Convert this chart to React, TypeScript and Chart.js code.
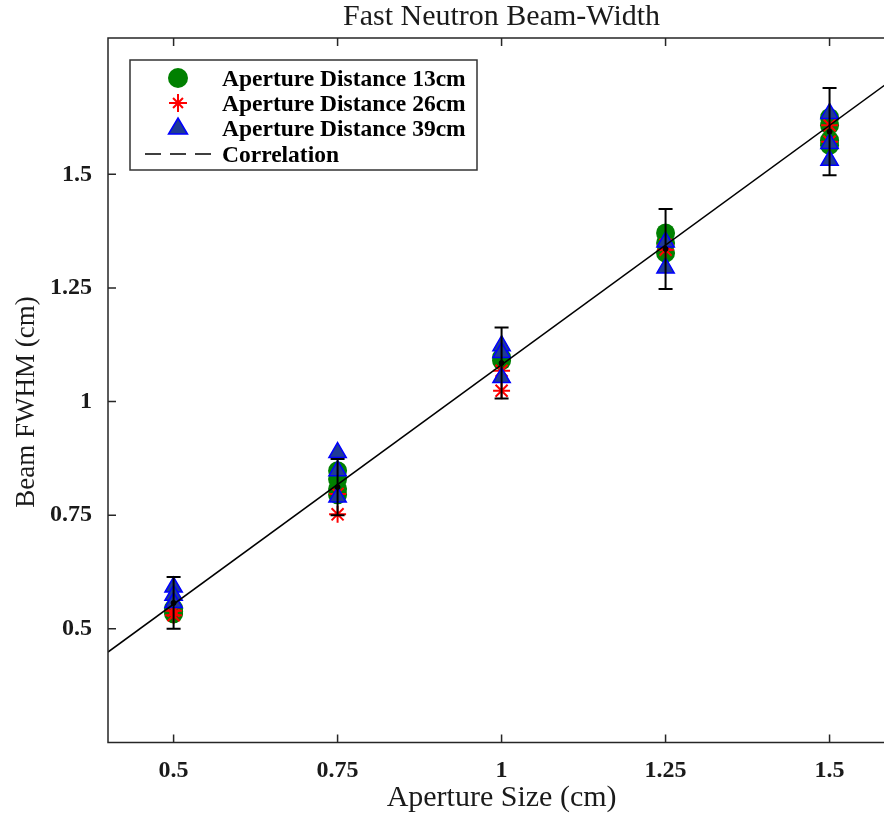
import React, { useEffect, useRef } from "react";
import { Chart, registerables } from "chart.js";

Chart.register(...registerables);

const FONT = "'Liberation Serif', 'DejaVu Serif', serif";
const TEXT = "#1a1a1a";

const chartTitle = "Fast Neutron Beam-Width";
const xAxisTitle = "Aperture Size (cm)";
const yAxisTitle = "Beam FWHM (cm)";

const xTickValues = [0.5, 0.75, 1, 1.25, 1.5];
const yTickValues = [0.5, 0.75, 1, 1.25, 1.5];

const seriesLabels = [
  "Aperture Distance 13cm",
  "Aperture Distance 26cm",
  "Aperture Distance 39cm",
  "Correlation",
];

// [aperture size, beam FWHM]
const dist13cm: [number, number][] = [
  [0.5, 0.545], [0.5, 0.538], [0.5, 0.533],
  [0.75, 0.848], [0.75, 0.83], [0.75, 0.808], [0.75, 0.795],
  [1.0, 1.097], [1.0, 1.09],
  [1.25, 1.371], [1.25, 1.349], [1.25, 1.327],
  [1.5, 1.625], [1.5, 1.608], [1.5, 1.575], [1.5, 1.564],
];
const dist26cm: [number, number][] = [
  [0.5, 0.53], [0.5, 0.54],
  [0.75, 0.797], [0.75, 0.752],
  [1.0, 1.068], [1.0, 1.024],
  [1.25, 1.334], [1.25, 1.345],
  [1.5, 1.608], [1.5, 1.572],
];
const dist39cm: [number, number][] = [
  [0.5, 0.592], [0.5, 0.574], [0.5, 0.558],
  [0.75, 0.888], [0.75, 0.848], [0.75, 0.79],
  [1.0, 1.123], [1.0, 1.108], [1.0, 1.053],
  [1.25, 1.351], [1.25, 1.294],
  [1.5, 1.634], [1.5, 1.568], [1.5, 1.531],
];

const meanSizes = [0.5, 0.75, 1.0, 1.25, 1.5];
const meanFWHM = [0.557, 0.812, 1.085, 1.336, 1.594];
const errFWHM = [0.057, 0.062, 0.078, 0.088, 0.096];

const correlationX = [0.4, 1.6];
const correlationY = [0.449, 1.713];

const toPts = (arr: [number, number][]) => arr.map(([x, y]) => ({ x, y }));

export default function App() {
  const ref = useRef<HTMLCanvasElement | null>(null);

  useEffect(() => {
    document.body.style.margin = "0";
    const canvas = ref.current;
    if (!canvas) return;

    const overlay = {
      id: "overlay",
      afterDatasetsDraw(chart: any) {
        const ctx = chart.ctx;
        const xs = chart.scales.x;
        const ys = chart.scales.y;
        ctx.save();
        ctx.strokeStyle = "#000";
        ctx.lineWidth = 2;
        meanSizes.forEach((s, i) => {
          const px = xs.getPixelForValue(s);
          const t = ys.getPixelForValue(meanFWHM[i] + errFWHM[i]);
          const b = ys.getPixelForValue(meanFWHM[i] - errFWHM[i]);
          ctx.beginPath();
          ctx.moveTo(px, t);
          ctx.lineTo(px, b);
          ctx.moveTo(px - 7, t);
          ctx.lineTo(px + 7, t);
          ctx.moveTo(px - 7, b);
          ctx.lineTo(px + 7, b);
          ctx.stroke();
        });
        ctx.restore();
      },
      afterDraw(chart: any) {
        const ctx = chart.ctx;
        const a = chart.chartArea;
        const xs = chart.scales.x;
        const ys = chart.scales.y;
        ctx.save();
        // frame
        ctx.strokeStyle = "#262626";
        ctx.lineWidth = 1.5;
        ctx.beginPath();
        ctx.moveTo(a.right + 2, a.top);
        ctx.lineTo(a.left, a.top);
        ctx.lineTo(a.left, a.bottom);
        ctx.lineTo(a.right + 2, a.bottom);
        ctx.stroke();
        // inner ticks
        ctx.beginPath();
        xTickValues.forEach((v) => {
          const px = xs.getPixelForValue(v);
          ctx.moveTo(px, a.bottom);
          ctx.lineTo(px, a.bottom - 8);
          ctx.moveTo(px, a.top);
          ctx.lineTo(px, a.top + 8);
        });
        yTickValues.forEach((v) => {
          const py = ys.getPixelForValue(v);
          ctx.moveTo(a.left, py);
          ctx.lineTo(a.left + 8, py);
        });
        ctx.stroke();

        // titles
        ctx.fillStyle = TEXT;
        ctx.textAlign = "center";
        ctx.textBaseline = "alphabetic";
        const cx = xs.getPixelForValue(1);
        ctx.font = `30px ${FONT}`;
        ctx.fillText(chartTitle, cx, 25);
        ctx.fillText(xAxisTitle, cx, 806);
        ctx.save();
        ctx.translate(34, 402);
        ctx.rotate(-Math.PI / 2);
        ctx.font = `27px ${FONT}`;
        ctx.fillText(yAxisTitle, 0, 0);
        ctx.restore();

        // legend
        const lx = 130, ly = 60, lw = 347, lh = 110;
        ctx.fillStyle = "#fff";
        ctx.fillRect(lx, ly, lw, lh);
        ctx.strokeStyle = "#333";
        ctx.lineWidth = 1.5;
        ctx.strokeRect(lx, ly, lw, lh);
        const rows = [78, 103, 128, 154];
        const mx = 178;
        // circle
        ctx.fillStyle = "#008000";
        ctx.beginPath();
        ctx.arc(mx, rows[0], 10, 0, Math.PI * 2);
        ctx.fill();
        // star
        ctx.strokeStyle = "#ff0000";
        ctx.lineWidth = 2;
        ctx.beginPath();
        for (let k = 0; k < 4; k++) {
          const ang = (k * Math.PI) / 4;
          const r = k % 2 === 0 ? 9 : 7;
          ctx.moveTo(mx + r * Math.cos(ang), rows[1] + r * Math.sin(ang));
          ctx.lineTo(mx - r * Math.cos(ang), rows[1] - r * Math.sin(ang));
        }
        ctx.stroke();
        // triangle
        ctx.fillStyle = "#1f3b95";
        ctx.strokeStyle = "#0000ff";
        ctx.lineWidth = 1.5;
        ctx.beginPath();
        ctx.moveTo(mx, rows[2] - 10);
        ctx.lineTo(mx + 9.5, rows[2] + 6);
        ctx.lineTo(mx - 9.5, rows[2] + 6);
        ctx.closePath();
        ctx.fill();
        ctx.stroke();
        // dashed line
        ctx.strokeStyle = "#000";
        ctx.lineWidth = 1.5;
        ctx.setLineDash([16, 9]);
        ctx.beginPath();
        ctx.moveTo(145, rows[3]);
        ctx.lineTo(212, rows[3]);
        ctx.stroke();
        ctx.setLineDash([]);
        ctx.fillStyle = "#000";
        ctx.textAlign = "left";
        ctx.textBaseline = "alphabetic";
        ctx.font = `bold 23.5px ${FONT}`;
        seriesLabels.forEach((t, i) => ctx.fillText(t, 222, rows[i] + 8));
        ctx.restore();
      },
    };

    const tickFont = { family: FONT, size: 24, weight: "bold" as const };

    const chart = new Chart(canvas, {
      type: "scatter",
      data: {
        datasets: [
          {
            label: "mean",
            data: meanSizes.map((x, i) => ({ x, y: meanFWHM[i] })),
            pointRadius: 2.5,
            pointBackgroundColor: "#000",
            pointBorderColor: "#000",
            order: -1,
          },
          {
            type: "line",
            label: seriesLabels[3],
            data: correlationX.map((x, i) => ({ x, y: correlationY[i] })),
            borderColor: "#000",
            borderWidth: 1.5,
            pointRadius: 0,
            fill: false,
            order: 0,
          },
          {
            label: seriesLabels[2],
            data: toPts(dist39cm),
            pointStyle: "triangle",
            pointRadius: 10,
            pointBackgroundColor: "#1f3b95",
            pointBorderColor: "#0000ff",
            pointBorderWidth: 1.5,
            order: 1,
          },
          {
            label: seriesLabels[1],
            data: toPts(dist26cm),
            pointStyle: "star",
            pointRadius: 8.5,
            pointBorderColor: "#ff0000",
            pointBackgroundColor: "#ff0000",
            pointBorderWidth: 2,
            order: 2,
          },
          {
            label: seriesLabels[0],
            data: toPts(dist13cm),
            pointStyle: "circle",
            pointRadius: 9.5,
            pointBackgroundColor: "#008000",
            pointBorderColor: "#008000",
            pointBorderWidth: 0,
            order: 3,
          },
        ],
      },
      options: {
        animation: false,
        responsive: false,
        layout: { autoPadding: false, padding: { top: 38, left: 0, right: 0, bottom: 0 } },
        plugins: { legend: { display: false }, title: { display: false }, tooltip: { enabled: false } },
        scales: {
          x: {
            type: "linear",
            min: 0.4,
            max: 1.583,
            grid: { display: false },
            border: { display: false },
            afterBuildTicks: (s: any) => {
              s.ticks = xTickValues.map((v) => ({ value: v }));
            },
            afterFit: (s: any) => {
              s.height = 75.5;
              s.paddingLeft = 0;
              s.paddingRight = 0;
            },
            ticks: { font: tickFont, color: TEXT, padding: 6, maxRotation: 0, callback: (v: any) => String(v) },
          },
          y: {
            type: "linear",
            min: 0.25,
            max: 1.8,
            grid: { display: false },
            border: { display: false },
            afterBuildTicks: (s: any) => {
              s.ticks = yTickValues.map((v) => ({ value: v }));
            },
            afterFit: (s: any) => {
              s.width = 108;
              s.paddingTop = 0;
              s.paddingBottom = 0;
            },
            ticks: { font: tickFont, color: TEXT, padding: 8, callback: (v: any) => String(v) },
          },
        },
      },
      plugins: [overlay],
    });
    return () => chart.destroy();
  }, []);

  return (
    <div style={{ width: 884, height: 818 }}>
      <canvas ref={ref} width={884} height={818} />
    </div>
  );
}
